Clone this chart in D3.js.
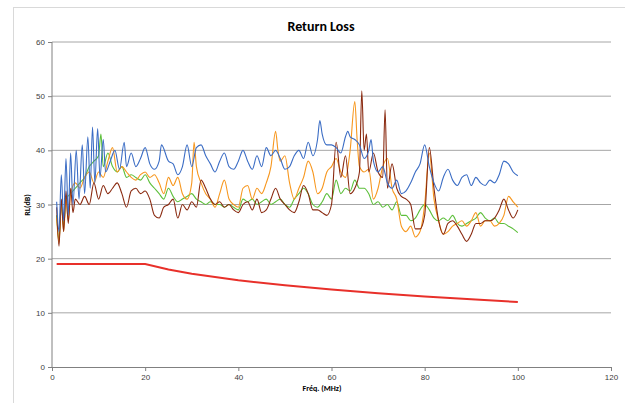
<!DOCTYPE html>
<html><head><meta charset="utf-8">
<script src="https://cdn.jsdelivr.net/npm/d3@7"></script>
<style>body{margin:0;background:#fff}svg{font-family:Calibri,Carlito,"Liberation Sans",Arial,sans-serif}</style>
</head><body>
<svg id="chart" width="625" height="403"></svg>
<script>
// [freq, RL] pairs
var blue = [[1,30.5],[1.5,25],[2,35.5],[2.5,27],[3,38.5],[3.5,28],[4,39.5],[4.5,30],[5.2,40],[5.8,31],[6.5,41],[7,32],[7.7,42.5],[8.2,33],[8.7,44.3],[9.2,34],[9.8,44],[10.3,35],[11,42],[11.5,36],[12.5,38],[13.5,40],[14.5,36.5],[15.5,41.5],[16,37],[17,39.5],[18,37],[19,38.5],[20,40.5],[21,37.5],[22,36.5],[23,38],[23.5,41],[25,38],[26,37.5],[27,35.5],[28,37],[29,41],[30,37],[31,40.5],[32,41],[33,39],[34,37.5],[35,36],[36,38],[37,39.5],[38,37],[39,36.5],[40,38],[41,40],[42,38],[43,36.5],[44,39],[45,37],[46,40.5],[47,39],[48,40],[49,38.5],[50,36.5],[51,37],[52,39],[53,40],[54,38.5],[55,41.5],[56,39],[57,42],[57.5,45.5],[58,43],[59,41],[60,41],[61,40.5],[62,39.5],[63,42.5],[63.5,43.5],[64,42.5],[65,42],[66,41],[67,38.5],[68,40],[68.5,42],[69,38],[70,36],[71,37],[72,34],[73,33],[74,34.5],[75,32],[76,32.5],[77,34],[78,36],[79,37.5],[80,41],[81,37],[82,34],[83,32.5],[84,35],[85,36.5],[86,34.5],[87,33.5],[88,35],[89,35.5],[90,33.5],[91,35],[92,34],[93,33.5],[94,34.5],[95,34],[96,35.5],[97,38],[98,37.5],[99,36],[100,35.3]];
var orange = [[1,27.5],[1.5,23],[2,30],[2.5,25],[3,31],[3.5,27],[4,32],[5,34],[6,33],[7,35],[8,36],[9,34],[10,36],[11,35],[12,38],[13,40.5],[14,36],[15,37],[16,36],[17,35],[18,34.5],[19,35.5],[20,36],[21,35],[22,35.5],[23,34],[24,32],[25,35],[26,33.5],[27,35],[28,32],[29,31],[30,34],[30.5,41.5],[31,37],[32,34],[33,32],[34,31],[35,29.5],[36,32],[37,34.5],[38,31],[39,30],[40,29.5],[41,33],[42,33.5],[43,31],[44,33],[45,32],[46,34],[47,37],[48,43.5],[48.5,40],[49,38],[50,39],[51,34],[52,31],[53,33],[54,35],[55,38],[56,36],[57,32],[58,33],[59,36],[60,37],[61,38.5],[62,36],[63,35],[64,40],[65,49],[65.5,42],[66,37],[67,36],[68,36.5],[69,31],[70,33],[71,37],[72,38.5],[73,33],[74,31],[75,26],[76,25],[77,26],[78,24],[79,25],[80,30],[81,39.5],[82,31],[83,27],[84,24.5],[85,25],[86,26],[87,26.5],[88,27],[89,26],[90,27],[91,28.5],[92,26],[93,27],[94,27],[95,26],[96,26.5],[97,28],[98,31.5],[99,30.5],[100,29.5]];
var green = [[1,28],[1.5,23.5],[2,30],[2.5,26],[3,31],[4,32],[5,33],[6,34],[7,35],[8,37],[9,38],[10,39],[10.5,43],[11,37],[12,39.5],[13,37],[14,36],[15,37],[16,35],[17,35.5],[18,35],[19,34.5],[20,35.5],[21,34],[22,33],[23,32],[24,31],[25,33],[26,31.5],[27,30.5],[28,31],[29,31.5],[30,32],[31,31],[32,30.5],[33,30],[34,30.5],[35,30],[36,30],[37,29.5],[38,30],[39,29.5],[40,29],[41,31],[42,30.5],[43,31],[44,30],[45,30.5],[46,31],[47,30],[48,30.5],[49,31],[50,30],[51,29.5],[52,31],[53,32],[54,33],[55,32],[56,30],[57,29.5],[58,30.5],[59,32],[60,31],[61,34.5],[62,32],[63,33],[64,32.5],[65,34.5],[66,33],[67,33],[68,32],[69,30],[70,30.5],[71,29.5],[72,30],[73,29],[74,30.5],[75,28],[76,28],[77,27],[78,27.5],[79,29],[80,30],[81,29],[82,27.5],[83,27],[84,27.5],[85,27],[86,28],[87,26.5],[88,26],[89,26.5],[90,27],[91,27.5],[92,28.5],[93,27.5],[94,27],[95,27.5],[96,26.5],[97,26.5],[98,26],[99,25.5],[100,24.8]];
var brown = [[1,29.5],[1.5,22.3],[2,31],[2.5,25],[3,32.5],[3.5,26.5],[4,33],[4.5,28.5],[5,31],[6,30],[7,31.5],[8,30],[9,34],[10,31],[11,33.5],[12,32],[13,33],[14,34],[15,32],[16,29.5],[17,32.5],[18,33],[19,32],[20,32.5],[21,31],[22,28],[23,27.5],[24,29.5],[25,30],[26,31],[27,27.5],[28,30],[29,29],[30,30.5],[31,29.5],[32,34.5],[33,33],[34,31],[35,30],[36,30.5],[37,29.5],[38,30],[39,29],[40,28.5],[41,30],[42,30.5],[43,29],[44,31],[45,28.5],[46,29],[47,31],[48,33],[49,31],[50,30],[51,29],[52,28.5],[53,30.5],[54,33.5],[55,32],[56,29],[57,29],[58,28.5],[59,28],[60,30],[61,41.5],[62,35],[63,39],[64,32],[65,33],[66,36],[66.5,51],[67,40],[67.5,43],[68,36],[69,39.5],[70,36],[71,35],[71.5,47.5],[72,33],[73,37.5],[74,33],[75,31.5],[76,31],[77,30],[78,25.5],[79,25.5],[80,28],[81,40.5],[82,33],[83,27],[84,24.5],[85,26.5],[86,27],[87,26],[88,24.5],[89,23.2],[90,24.5],[91,26.5],[92,26.5],[93,27],[94,27],[95,27.5],[96,29],[97,31],[98,29],[99,27.5],[100,29]];
var limit = [[1,19],[20,19],[25,18],[30,17.2],[35,16.6],[40,16],[50,15.1],[60,14.3],[70,13.6],[80,13],[90,12.5],[100,12]];
var xTicks = [0,20,40,60,80,100,120];
var yTicks = [0,10,20,30,40,50,60];

var svg = d3.select("#chart");
svg.append("rect").attr("x",13.5).attr("y",7.5).attr("width",640).attr("height",420)
  .attr("fill","none").attr("stroke","#d9d9d9");

var pLeft = 52, pRight = 611, pTop = 42, pBottom = 367;
var x = d3.scaleLinear().domain([0,120]).range([pLeft,pRight]);
var y = d3.scaleLinear().domain([0,60]).range([pBottom,pTop]);

svg.append("g").selectAll("line").data(yTicks.slice(1)).enter().append("line")
  .attr("x1",pLeft).attr("x2",pRight).attr("y1",function(d){return y(d)}).attr("y2",function(d){return y(d)})
  .attr("stroke","#a6a6a6").attr("stroke-width",1);

var xa = svg.append("g").attr("transform","translate(0,"+pBottom+")")
  .call(d3.axisBottom(x).tickValues(xTicks).tickSize(4));
var ya = svg.append("g").attr("transform","translate("+pLeft+",0)")
  .call(d3.axisLeft(y).tickValues(yTicks).tickSize(4));
[xa,ya].forEach(function(a){
  a.selectAll("path,line").attr("stroke","#808080");
  a.selectAll("text").attr("font-size","8px").attr("fill","#404040");
});
ya.select(".domain").remove();
ya.append("line").attr("y1",pTop).attr("y2",pBottom).attr("stroke","#808080");

var line = d3.line().x(function(d){return x(d[0])}).y(function(d){return y(d[1])}).curve(d3.curveMonotoneX);
var series = [[green,"#5cbf3a"],[orange,"#f7971e"],[brown,"#8a2a10"],[blue,"#3a6cc4"]];
series.forEach(function(s){
  svg.append("path").datum(s[0]).attr("d",line).attr("fill","none").attr("stroke",s[1]).attr("stroke-width",1.1);
});
var limLine = d3.line().x(function(d){return x(d[0])}).y(function(d){return y(d[1])});
svg.append("path").datum(limit).attr("d",limLine).attr("fill","none").attr("stroke","#e8302a").attr("stroke-width",2);

svg.append("text").attr("x",321).attr("y",31).attr("text-anchor","middle")
  .attr("font-size","14px").attr("font-weight","bold").text("Return Loss");
svg.append("text").attr("x",322).attr("y",391).attr("text-anchor","middle")
  .attr("font-size","8px").attr("font-weight","bold").text("Fréq. (MHz)");
svg.append("text").attr("transform","translate(30,205) rotate(-90)").attr("text-anchor","middle")
  .attr("font-size","8px").attr("font-weight","bold").text("RL(dB)");
</script>
</body></html>
